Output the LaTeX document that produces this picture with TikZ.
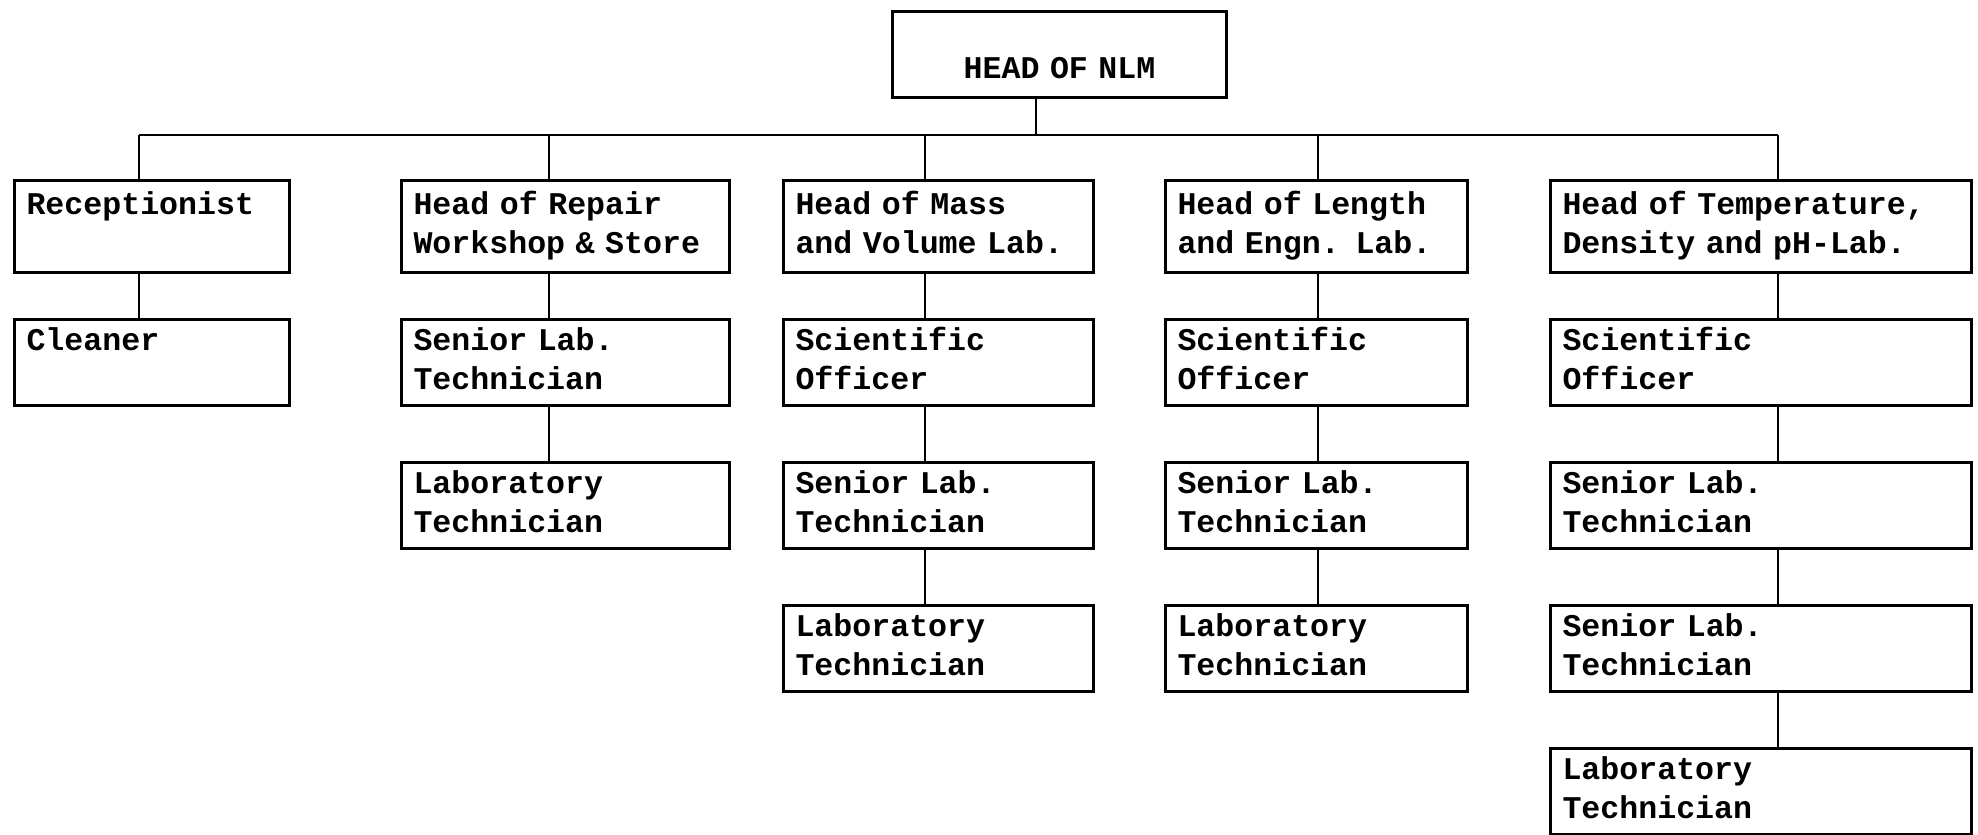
\documentclass[tikz,border=0pt]{standalone}
\usepackage{fontspec}
\setmonofont{Liberation Mono}
\usetikzlibrary{positioning}
\newcommand\unitfont{\ttfamily\bfseries\fontsize{15.8}{19.5}\selectfont
  \spaceskip=0.6em\relax \xspaceskip=0.6em\relax}

\begin{document}
\begin{tikzpicture}[x=0.5pt, y=-0.5pt, node distance=27pt,
    unit/.style={draw, line width=1.5pt, anchor=north west, align=left,
      inner xsep=6pt, inner ysep=0pt, font=\unitfont,
      execute at begin node=\strut, execute at end node=\strut},
    wa/.style={text width=125.5pt},
    wb/.style={text width=152pt},
    wc/.style={text width=143pt},
    wd/.style={text width=139pt},
    we/.style={text width=198.5pt},
    top/.style={minimum height=46pt},
    low/.style={minimum height=43pt}]
        \useasboundingbox (0,0) rectangle (1978,835);

        \node[unit, align=center, text width=155pt, minimum height=43pt] (head) at (891,10) {\\[-3pt]HEAD OF NLM};

        \node[unit, wa, top] (recp) at (13,179)   {Receptionist\\};
        \node[unit, wb, top] (rep)  at (400,179)  {Head of Repair\\Workshop \& Store};
        \node[unit, wc, top] (mass) at (782,179)  {Head of Mass\\and Volume Lab.};
        \node[unit, wd, top] (len)  at (1164,179) {Head of Length\\and Engn. Lab.};
        \node[unit, we, top] (temp) at (1549,179) {Head of Temperature,\\Density and pH-Lab.};

        \node[unit, wa, low, below=22pt of recp.south west, anchor=north west] (clean) {Cleaner\\};

        \node[unit, wb, low, below=22pt of rep.south west, anchor=north west]  (sen2)  {Senior Lab.\\Technician};
        \node[unit, wb, low, below=of sen2.south west, anchor=north west]      (tech2) {Laboratory\\Technician};

        \node[unit, wc, low, below=22pt of mass.south west, anchor=north west] (sci3)  {Scientific\\Officer};
        \node[unit, wc, low, below=of sci3.south west, anchor=north west]      (sen3)  {Senior Lab.\\Technician};
        \node[unit, wc, low, below=of sen3.south west, anchor=north west]      (tech3) {Laboratory\\Technician};

        \node[unit, wd, low, below=22pt of len.south west, anchor=north west]  (sci4)  {Scientific\\Officer};
        \node[unit, wd, low, below=of sci4.south west, anchor=north west]      (sen4)  {Senior Lab.\\Technician};
        \node[unit, wd, low, below=of sen4.south west, anchor=north west]      (tech4) {Laboratory\\Technician};

        \node[unit, we, low, below=22pt of temp.south west, anchor=north west] (sci5)  {Scientific\\Officer};
        \node[unit, we, low, below=of sci5.south west, anchor=north west]      (sen5)  {Senior Lab.\\Technician};
        \node[unit, we, low, below=of sen5.south west, anchor=north west]      (sen6)  {Senior Lab.\\Technician};
        \node[unit, we, low, below=of sen6.south west, anchor=north west]      (tech5) {Laboratory\\Technician};

        \coordinate (hb) at (1036,135);
        \coordinate (s1) at (139,135);
        \coordinate (s2) at (549,135);
        \coordinate (s3) at (925,135);
        \coordinate (s4) at (1318,135);
        \coordinate (s5) at (1778,135);

        \path[line width=1.2pt]
          (s1) edge (s5)
          (head.south -| hb) edge (hb)

          (s1) edge (recp.north -| s1)
          (recp.south -| s1) edge (clean.north -| s1)

          (s2) edge (rep.north -| s2)
          (rep.south -| s2)  edge (sen2.north -| s2)
          (sen2.south -| s2) edge (tech2.north -| s2)

          (s3) edge (mass.north -| s3)
          (mass.south -| s3) edge (sci3.north -| s3)
          (sci3.south -| s3) edge (sen3.north -| s3)
          (sen3.south -| s3) edge (tech3.north -| s3)

          (s4) edge (len.north -| s4)
          (len.south -| s4)  edge (sci4.north -| s4)
          (sci4.south -| s4) edge (sen4.north -| s4)
          (sen4.south -| s4) edge (tech4.north -| s4)

          (s5) edge (temp.north -| s5)
          (temp.south -| s5) edge (sci5.north -| s5)
          (sci5.south -| s5) edge (sen5.north -| s5)
          (sen5.south -| s5) edge (sen6.north -| s5)
          (sen6.south -| s5) edge (tech5.north -| s5);

\end{tikzpicture}
\end{document}
